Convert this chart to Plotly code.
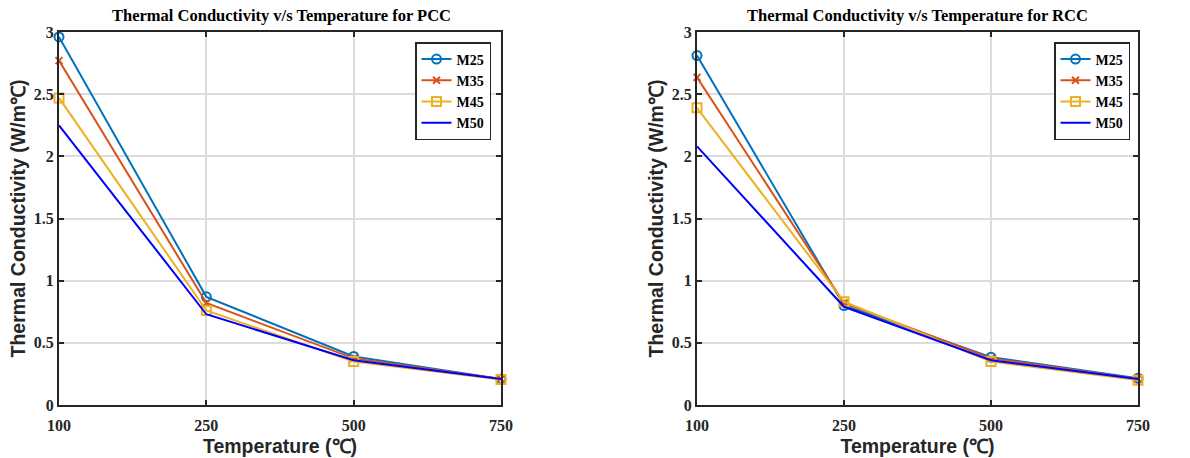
import plotly.graph_objects as go

temps = ["100", "250", "500", "750"]
series = ["M25", "M35", "M45", "M50"]

pcc_m25 = [2.96, 0.87, 0.39, 0.21]
pcc_m35 = [2.77, 0.82, 0.375, 0.21]
pcc_m45 = [2.47, 0.76, 0.35, 0.205]
pcc_m50 = [2.25, 0.73, 0.36, 0.21]

rcc_m25 = [2.81, 0.80, 0.385, 0.215]
rcc_m35 = [2.635, 0.82, 0.375, 0.21]
rcc_m45 = [2.39, 0.83, 0.35, 0.20]
rcc_m50 = [2.08, 0.79, 0.36, 0.21]

colors = ["#0072BD", "#D95319", "#EDB120", "#0000FF"]
symbols = ["circle-open", "x-thin-open", "square-open", None]
msizes = [9, 7, 9, 9]

xi = list(range(len(temps)))

fig = go.Figure()

def add_set(data, xa, ya, legend):
    for name, y, c, s, ms in zip(series, data, colors, symbols, msizes):
        mode = "lines+markers" if s else "lines"
        fig.add_trace(go.Scatter(
            x=xi, y=y, name="<b>%s</b>" % name, mode=mode,
            line=dict(color=c, width=2),
            marker=dict(symbol=s or "circle", size=ms, color=c, line=dict(color=c, width=2)),
            xaxis=xa, yaxis=ya, legend=legend, cliponaxis=False,
        ))

add_set([pcc_m25, pcc_m35, pcc_m45, pcc_m50], "x", "y", "legend")
add_set([rcc_m25, rcc_m35, rcc_m45, rcc_m50], "x2", "y2", "legend2")

tick_font = dict(family="Liberation Serif", size=16, color="#262626")
title_font = dict(family="Liberation Sans", size=19.5, color="#262626")
ax_common = dict(showline=True, linecolor="#262626", linewidth=2, mirror="ticks",
                 ticks="inside", ticklen=5, tickcolor="#262626", tickwidth=2,
                 showgrid=True, gridcolor="#dcdcdc", gridwidth=1.5, zeroline=False,
                 tickfont=tick_font, automargin=False)

xa = dict(ax_common, range=[0, 3], tickvals=xi, ticktext=["<b>%s</b>" % t for t in temps],
          ticklabelstandoff=5,
          title=dict(text="<b>Temperature (℃)</b>", font=title_font, standoff=6))
ya = dict(ax_common, range=[0, 3], tickvals=[0, 0.5, 1, 1.5, 2, 2.5, 3],
          ticktext=["<b>%s</b>" % v for v in ["0", "0.5", "1", "1.5", "2", "2.5", "3"]],
          title=dict(text="<b>Thermal Conductivity (W/m℃)</b>", font=title_font, standoff=3))

leg = dict(yanchor="top", xanchor="right", bordercolor="#262626", borderwidth=1.5, bgcolor="white",
           font=dict(family="Liberation Serif", size=14, color="black"),
           itemwidth=30, tracegroupgap=0)

y_dom = [1 - 405 / 458, 1 - 32 / 458]
fig.update_layout(
    width=1190, height=458,
    margin=dict(l=0, r=0, t=0, b=0, autoexpand=False),
    paper_bgcolor="white", plot_bgcolor="white",
    xaxis=dict(xa, domain=[59 / 1190, 501 / 1190], anchor="y"),
    yaxis=dict(ya, domain=y_dom, anchor="x"),
    xaxis2=dict(xa, domain=[697 / 1190, 1138 / 1190], anchor="y2"),
    yaxis2=dict(ya, domain=y_dom, anchor="x2"),
    legend=dict(leg, x=491 / 1190, y=1 - 42 / 458),
    legend2=dict(leg, x=1130 / 1190, y=1 - 42 / 458),
    annotations=[
        dict(text="<b>Thermal Conductivity v/s Temperature for PCC</b>", x=281 / 1190, y=1 - 16 / 458,
             xref="paper", yref="paper", xanchor="center", yanchor="middle", showarrow=False,
             font=dict(family="Liberation Serif", size=16.5, color="black")),
        dict(text="<b>Thermal Conductivity v/s Temperature for RCC</b>", x=917 / 1190, y=1 - 16 / 458,
             xref="paper", yref="paper", xanchor="center", yanchor="middle", showarrow=False,
             font=dict(family="Liberation Serif", size=16.5, color="black")),
    ],
    showlegend=True,
)

fig.write_html("out.html", config={"displayModeBar": False},
               post_script="document.body.style.margin='0';")
